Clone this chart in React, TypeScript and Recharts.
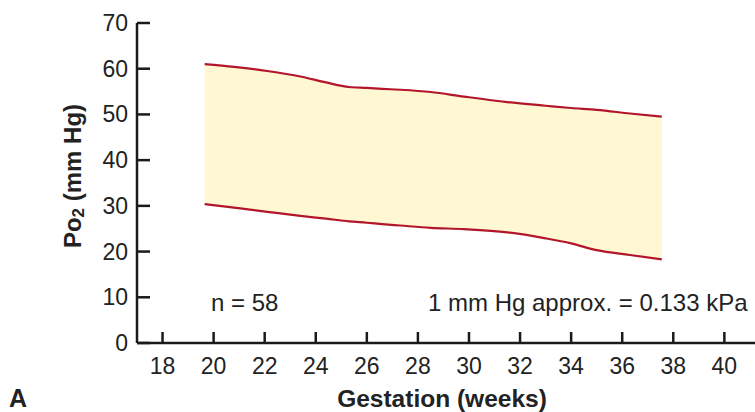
import React from "react";
import { ComposedChart, Area, Line, XAxis, YAxis } from "recharts";

const weeks = [19.65, 20.8, 22.1, 23.4, 24.4, 25.3, 26.0, 26.6, 27.3, 28.5, 29.8, 31.5, 33.0, 34.0, 35.0, 36.3, 37.55];
const upperPo2 = [61.0, 60.4, 59.5, 58.3, 57.0, 56.0, 55.8, 55.6, 55.4, 54.9, 53.9, 52.7, 51.9, 51.4, 51.0, 50.2, 49.5];
const lowerPo2 = [30.4, 29.6, 28.7, 27.8, 27.2, 26.6, 26.3, 26.0, 25.7, 25.2, 24.9, 24.2, 22.9, 21.8, 20.3, 19.25, 18.3];
const xTicks = [18, 20, 22, 24, 26, 28, 30, 32, 34, 36, 38, 40];
const yTicks = [0, 10, 20, 30, 40, 50, 60, 70];

const data = weeks.map((w, i) => ({
  week: w,
  upper: upperPo2[i],
  lower: lowerPo2[i],
  range: [lowerPo2[i], upperPo2[i]],
}));

const FONT = "'Liberation Sans', Arial, Helvetica, sans-serif";
const TXT = "#222";
const AXIS = "#1a1a1a";
const RED = "#b3162b";

const YTick = (props: any) => {
  const { x, y, payload } = props;
  return (
    <g>
      <line x1={x} y1={y} x2={x + 13} y2={y} stroke={AXIS} strokeWidth={2.5} />
      <text x={x - 9} y={y} textAnchor="end" dominantBaseline="central" fontSize={23} fontFamily={FONT} fill={TXT}>
        {payload.value}
      </text>
    </g>
  );
};

const XTick = (props: any) => {
  const { x, y, payload } = props;
  return (
    <g>
      <line x1={x} y1={y} x2={x} y2={y - 11} stroke={AXIS} strokeWidth={2.5} />
      <text x={x} y={y + 23} textAnchor="middle" dominantBaseline="central" fontSize={23} fontFamily={FONT} fill={TXT}>
        {payload.value}
      </text>
    </g>
  );
};

export default function App() {
  return (
    <div style={{ position: "absolute", left: 0, top: 0, width: 755, height: 412, background: "#fff" }}>
      <ComposedChart
        width={755}
        height={412}
        data={data}
        margin={{ top: 23, right: 0, bottom: 39, left: 77 }}
      >
        <XAxis
          dataKey="week"
          type="number"
          domain={[17, 41.2]}
          ticks={xTicks}
          allowDataOverflow
          height={30}
          tickSize={0}
          tickMargin={0}
          tick={<XTick />}
          axisLine={{ stroke: AXIS, strokeWidth: 2.5 }}
          tickLine={false}
        />
        <YAxis
          type="number"
          domain={[0, 70]}
          ticks={yTicks}
          width={60}
          tickSize={0}
          tickMargin={0}
          tick={<YTick />}
          axisLine={{ stroke: AXIS, strokeWidth: 2.5 }}
          tickLine={false}
        />
        <Area
          dataKey="range"
          type="monotone"
          fill="#fff8d2"
          fillOpacity={1}
          stroke="none"
          isAnimationActive={false}
        />
        <Line dataKey="upper" type="monotone" stroke={RED} strokeWidth={2.2} dot={false} isAnimationActive={false} />
        <Line dataKey="lower" type="monotone" stroke={RED} strokeWidth={2.2} dot={false} isAnimationActive={false} />
        <text x={211} y={302} dominantBaseline="central" fontSize={24} fontFamily={FONT} fill={TXT}>
          n = 58
        </text>
        <text x={428} y={302} dominantBaseline="central" fontSize={24} fontFamily={FONT} fill={TXT}>
          1 mm Hg approx. = 0.133 kPa
        </text>
        <text
          x={72}
          y={176}
          transform="rotate(-90, 72, 176)"
          textAnchor="middle"
          dominantBaseline="central"
          fontSize={24}
          fontWeight="bold"
          fontFamily={FONT}
          fill={TXT}
        >
          Po<tspan dy={6} fontSize={17}>2</tspan>
          <tspan dy={-6}> (mm Hg)</tspan>
        </text>
        <text x={442} y={398} textAnchor="middle" dominantBaseline="central" fontSize={24.5} fontWeight="bold" fontFamily={FONT} fill={TXT}>
          Gestation (weeks)
        </text>
        <text x={9} y={398} dominantBaseline="central" fontSize={25} fontWeight="bold" fontFamily={FONT} fill={TXT}>
          A
        </text>
      </ComposedChart>
    </div>
  );
}
